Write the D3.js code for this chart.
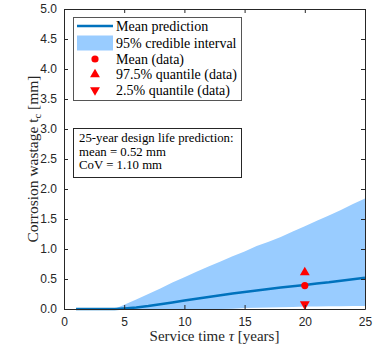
<!DOCTYPE html>
<html>
<head>
<meta charset="utf-8">
<script src="https://cdn.jsdelivr.net/npm/d3@7"></script>
<style>
  html, body { margin: 0; padding: 0; background: #fff; }
  svg { display: block; }
</style>
</head>
<body>
<svg id="chart" width="377" height="349"></svg>
<script>
// Service time (years) and model predictions of corrosion wastage (mm)
const years      = [1, 2, 3, 4, 4.2, 5, 6, 7, 8, 9, 10, 11, 12, 13, 14, 15, 16, 17, 18, 19, 20, 21, 22, 23, 24, 25];
const meanPred   = [0, 0, 0, 0, 0, 0.01, 0.025, 0.05, 0.08, 0.11, 0.14, 0.17, 0.20, 0.23, 0.26, 0.285, 0.31, 0.335, 0.36, 0.38, 0.40, 0.425, 0.445, 0.47, 0.495, 0.52];
const upper95    = [0, 0, 0, 0, 0, 0.07, 0.16, 0.25, 0.34, 0.44, 0.53, 0.62, 0.71, 0.79, 0.88, 0.96, 1.05, 1.12, 1.20, 1.29, 1.38, 1.47, 1.56, 1.65, 1.75, 1.84];
const lower95    = [0, 0, 0, 0, 0, 0, 0, 0, 0, 0, 0, 0, 0, 0, 0.005, 0.015, 0.02, 0.025, 0.03, 0.035, 0.04, 0.04, 0.045, 0.045, 0.05, 0.05];

// Observed data at 20 years
const dataYear   = [20];
const dataMean   = [0.39];
const dataQ975   = [0.61];
const dataQ025   = [0.08];

const xTicks = [0, 5, 10, 15, 20, 25];
const yTicks = [0, 0.5, 1, 1.5, 2, 2.5, 3, 3.5, 4, 4.5, 5];

const legendLabels = ["Mean prediction", "95% credible interval", "Mean (data)", "97.5% quantile (data)", "2.5% quantile (data)"];
const noteLines = ["25-year design life prediction:", "mean = 0.52 mm", "CoV = 1.10 mm"];

const blueLine = "#0072BD";
const blueBand = "#99CCFF";
const red = "#FF0000";

const svg = d3.select("#chart");
const M = { left: 64, right: 365, top: 9, bottom: 309 };

const x = d3.scaleLinear().domain([0, 25]).range([M.left, M.right]);
const y = d3.scaleLinear().domain([0, 5]).range([M.bottom, M.top]);

const pts = years.map((t, i) => ({ t, m: meanPred[i], lo: lower95[i], hi: upper95[i] }));

// credible band
svg.append("path")
  .datum(pts)
  .attr("fill", blueBand)
  .attr("d", d3.area().x(d => x(d.t)).y0(d => y(d.lo)).y1(d => y(d.hi)));

// mean line
svg.append("path")
  .datum(pts)
  .attr("fill", "none")
  .attr("stroke", blueLine)
  .attr("stroke-width", 2.5)
  .attr("d", d3.line().x(d => x(d.t)).y(d => y(d.m)));

// data markers
const sym = (type, size) => d3.symbol().type(type).size(size);
dataYear.forEach((t, i) => {
  svg.append("circle").attr("cx", x(t)).attr("cy", y(dataMean[i])).attr("r", 3.6).attr("fill", red);
  svg.append("path").attr("transform", `translate(${x(t)},${y(dataQ975[i])})`)
    .attr("d", sym(d3.symbolTriangle, 42)()).attr("fill", red);
  svg.append("path").attr("transform", `translate(${x(t)},${y(dataQ025[i])}) rotate(180)`)
    .attr("d", sym(d3.symbolTriangle, 42)()).attr("fill", red);
});

// axes with inward ticks on all four sides
const tickFont = "'Liberation Sans', Arial, sans-serif";
const axisColor = "#262626";
function styleAxis(g) {
  g.selectAll("path.domain").attr("stroke", axisColor).attr("stroke-width", 1);
  g.selectAll(".tick line").attr("stroke", axisColor);
  g.selectAll(".tick text").attr("fill", axisColor).style("font-family", tickFont).style("font-size", "12px");
}
const xb = svg.append("g").attr("transform", `translate(0,${M.bottom})`)
  .call(d3.axisBottom(x).tickValues(xTicks).tickFormat(d3.format("d")).tickSizeInner(-4).tickSizeOuter(0).tickPadding(8));
styleAxis(xb);
const xt = svg.append("g").attr("transform", `translate(0,${M.top})`)
  .call(d3.axisTop(x).tickValues(xTicks).tickFormat("").tickSizeInner(-4).tickSizeOuter(0));
styleAxis(xt);
const yl = svg.append("g").attr("transform", `translate(${M.left},0)`)
  .call(d3.axisLeft(y).tickValues(yTicks).tickFormat(d3.format(".1f")).tickSizeInner(-4).tickSizeOuter(0).tickPadding(7));
styleAxis(yl);
const yr = svg.append("g").attr("transform", `translate(${M.right},0)`)
  .call(d3.axisRight(y).tickValues(yTicks).tickFormat("").tickSizeInner(-4).tickSizeOuter(0));
styleAxis(yr);

const serif = "'Liberation Serif', 'Times New Roman', serif";

// axis titles
const xTitle = svg.append("text").attr("x", (M.left + M.right) / 2).attr("y", 341)
  .attr("text-anchor", "middle").style("font-family", serif).style("font-size", "15px").attr("fill", axisColor);
xTitle.append("tspan").text("Service time ");
xTitle.append("tspan").style("font-style", "italic").text("τ");
xTitle.append("tspan").text(" [years]");

const yTitle = svg.append("text").attr("transform", `translate(38,${(M.top + M.bottom) / 2}) rotate(-90)`)
  .attr("text-anchor", "middle").style("font-family", serif).style("font-size", "15.5px").attr("fill", axisColor);
yTitle.append("tspan").text("Corrosion wastage t");
yTitle.append("tspan").attr("dy", 3).style("font-size", "10.5px").text("c");
yTitle.append("tspan").attr("dy", -3).text(" [mm]");

// legend
const lg = svg.append("g");
lg.append("rect").attr("x", 73.5).attr("y", 17.5).attr("width", 168).attr("height", 83)
  .attr("fill", "#fff").attr("stroke", "#555").attr("stroke-width", 1);
const rowY = [26, 43, 59, 74.5, 90];
const swX = 95;
lg.append("line").attr("x1", 77).attr("x2", 113).attr("y1", rowY[0]).attr("y2", rowY[0])
  .attr("stroke", blueLine).attr("stroke-width", 2.5);
lg.append("rect").attr("x", 77).attr("y", rowY[1] - 7.5).attr("width", 36).attr("height", 15).attr("fill", blueBand);
lg.append("circle").attr("cx", swX).attr("cy", rowY[2]).attr("r", 3.6).attr("fill", red);
lg.append("path").attr("transform", `translate(${swX},${rowY[3]})`).attr("d", sym(d3.symbolTriangle, 42)()).attr("fill", red);
lg.append("path").attr("transform", `translate(${swX},${rowY[4]}) rotate(180)`).attr("d", sym(d3.symbolTriangle, 42)()).attr("fill", red);
legendLabels.forEach((s, i) => {
  lg.append("text").attr("x", 116).attr("y", rowY[i]).attr("dy", "0.35em")
    .style("font-family", serif).style("font-size", "14px").attr("fill", "#000").text(s);
});

// annotation box
const nb = svg.append("g");
nb.append("rect").attr("x", 73.5).attr("y", 128.5).attr("width", 168).attr("height", 49)
  .attr("fill", "#fff").attr("stroke", "#262626").attr("stroke-width", 1);
noteLines.forEach((s, i) => {
  nb.append("text").attr("x", 79).attr("y", 137.5 + i * 13.6).attr("dy", "0.35em")
    .style("font-family", serif).style("font-size", "12.8px").attr("fill", "#000").text(s);
});
</script>
</body>
</html>
